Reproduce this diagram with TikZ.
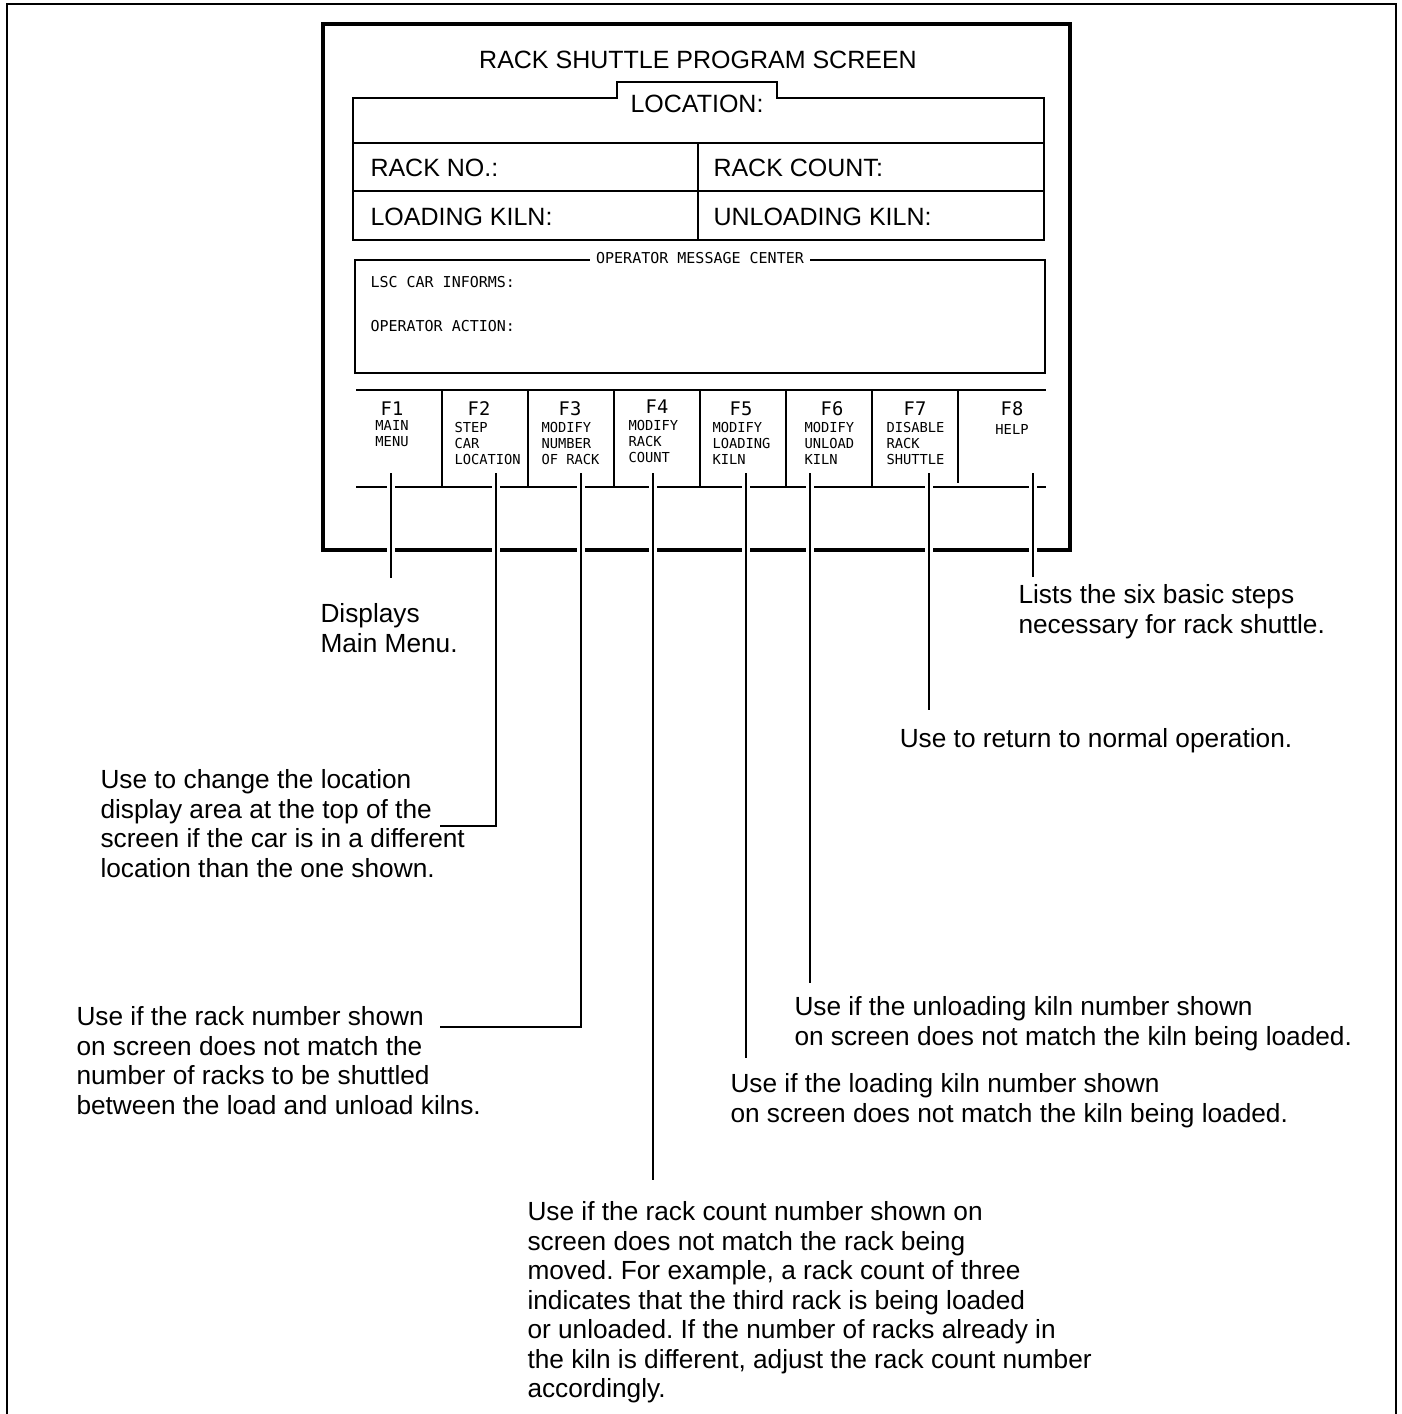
\documentclass[tikz,border=0pt]{standalone}
\usepackage{fontspec}
\setmainfont{Liberation Sans}
\newfontfamily\termfont{DejaVu Sans Mono}
\frenchspacing

\tikzset{
	outerframe/.style={line width=1pt},
	scrframe/.style={line width=1.3pt},
	rule/.style={line width=0.5pt},
	leader/.style={line width=0.5pt, preaction={draw=white, line width=3.2pt}},
	callout/.style={font=\fontsize{10.5}{11.8}\selectfont, align=left, inner sep=0pt, anchor=north west},
	scrtext/.style={font=\fontsize{10}{12}\selectfont, inner sep=0pt},
	term/.style={font=\termfont\fontsize{6}{7}\selectfont, inner sep=0pt},
	fkey/.style={font=\termfont\fontsize{7.5}{8}\selectfont, inner sep=0pt},
	fdesc/.style={font=\termfont\fontsize{5.5}{6.4}\selectfont, inner sep=0pt, align=left, anchor=north west},
}

\begin{document}
\begin{tikzpicture}[x=0.4pt, y=-0.4pt]
	\useasboundingbox (0,0) rectangle (1401,1414);

	% frames
	\draw[outerframe] (7,1414) -- (7,4) -- (1396,4) -- (1396,1414);
	\draw[scrframe] (323,24) rectangle (1070,550);

	% screen header
	\node[scrtext] (title) at (698,60) {RACK SHUTTLE PROGRAM SCREEN};
	\draw[rule] (353,98) -- (617,98) -- (617,82) -- (777,82) -- (777,98) -- (1044,98) -- (1044,240) -- (353,240) -- cycle;
	\draw[rule] (353,143) -- (1044,143);
	\draw[rule] (353,191) -- (1044,191);
	\draw[rule] (698,143) -- (698,240);
	\node[scrtext] (loc) at (697,104) {LOCATION:};
	\node[scrtext, anchor=west] (rackno) at (370,168) {RACK NO.:};
	\node[scrtext, anchor=west] (rackcnt) at (713,168) {RACK COUNT:};
	\node[scrtext, anchor=west] (loadk) at (370,217) {LOADING KILN:};
	\node[scrtext, anchor=west] (unloadk) at (713,217) {UNLOADING KILN:};

	% operator message center
	\draw[rule] (355,260) rectangle (1045,373);
	\node[term, fill=white, inner xsep=2.5pt] (omc) at (700,258) {OPERATOR MESSAGE CENTER};
	\node[term, anchor=west] (lsc) at (370,282) {LSC CAR INFORMS:};
	\node[term, anchor=west] (opact) at (370,326) {OPERATOR ACTION:};

	% function keys
	\draw[rule] (356,390) -- (1046,390);
	\draw[rule] (356,487) -- (1046,487);
	\foreach \x in {442,528,614,700,786,872}
		\draw[rule] (\x,390) -- (\x,487);
	\draw[rule] (958,390) -- (958,483);

	\node[fkey] (f1) at (392,409) {F1};
	\node[fkey] (f2) at (479,409) {F2};
	\node[fkey] (f3) at (570,409) {F3};
	\node[fkey] (f4) at (657,407) {F4};
	\node[fkey] (f5) at (741,409) {F5};
	\node[fkey] (f6) at (832,409) {F6};
	\node[fkey] (f7) at (915,409) {F7};
	\node[fkey] (f8) at (1012,409) {F8};
	\node[fdesc, align=center, anchor=north] (d1) at (392,420) {MAIN\\MENU};
	\node[fdesc] (d2) at (454,422) {STEP\\CAR\\LOCATION};
	\node[fdesc] (d3) at (541,422) {MODIFY\\NUMBER\\OF RACK};
	\node[fdesc] (d4) at (628,420) {MODIFY\\RACK\\COUNT};
	\node[fdesc] (d5) at (712,422) {MODIFY\\LOADING\\KILN};
	\node[fdesc] (d6) at (804,422) {MODIFY\\UNLOAD\\KILN};
	\node[fdesc] (d7) at (886,422) {DISABLE\\RACK\\SHUTTLE};
	\node[fdesc, align=center, anchor=north] (d8) at (1012,424) {HELP};

	% leader ends
	\coordinate (k1) at (391,473);
	\coordinate (k2) at (496,473);
	\coordinate (k3) at (581,473);
	\coordinate (k4) at (653,473);
	\coordinate (k5) at (746,473);
	\coordinate (k6) at (810,473);
	\coordinate (k7) at (929,473);
	\coordinate (k8) at (1033,473);
	\coordinate (e1) at (391,578);
	\coordinate (e2) at (440,826);
	\coordinate (e3) at (440,1027);
	\coordinate (e4) at (653,1180);
	\coordinate (e5) at (746,1058);
	\coordinate (e6) at (810,983);
	\coordinate (e7) at (929,710);
	\coordinate (e8) at (1033,577);

	\draw[leader] (k1) -- (e1);
	\draw[leader] (k2) |- (e2);
	\draw[leader] (k3) |- (e3);
	\draw[leader] (k4) -- (e4);
	\draw[leader] (k5) -- (e5);
	\draw[leader] (k6) -- (e6);
	\draw[leader] (k7) -- (e7);
	\draw[leader] (k8) -- (e8);

	% callouts
	\node[callout] (t1) at (320,603) {Displays\\Main Menu.};
	\node[callout] (t2) at (100,769) {Use to change the location\\display area at the top of the\\screen if the car is in a different\\location than the one shown.};
	\node[callout] (t3) at (76,1006) {Use if the rack number shown\\on screen does not match the\\number of racks to be shuttled\\between the load and unload kilns.};
	\node[callout] (t4) at (527,1201) {Use if the rack count number shown on\\screen does not match the rack being\\moved. For example, a rack count of three\\indicates that the third rack is being loaded\\or unloaded. If the number of racks already in\\the kiln is different, adjust the rack count number\\accordingly.};
	\node[callout] (t5) at (730,1073) {Use if the loading kiln number shown\\on screen does not match the kiln being loaded.};
	\node[callout] (t6) at (794,996) {Use if the unloading kiln number shown\\on screen does not match the kiln being loaded.};
	\node[callout, anchor=north] (t7) at (1096,728) {Use to return to normal operation.};
	\node[callout] (t8) at (1018,584) {Lists the six basic steps\\necessary for rack shuttle.};
\end{tikzpicture}
\end{document}
